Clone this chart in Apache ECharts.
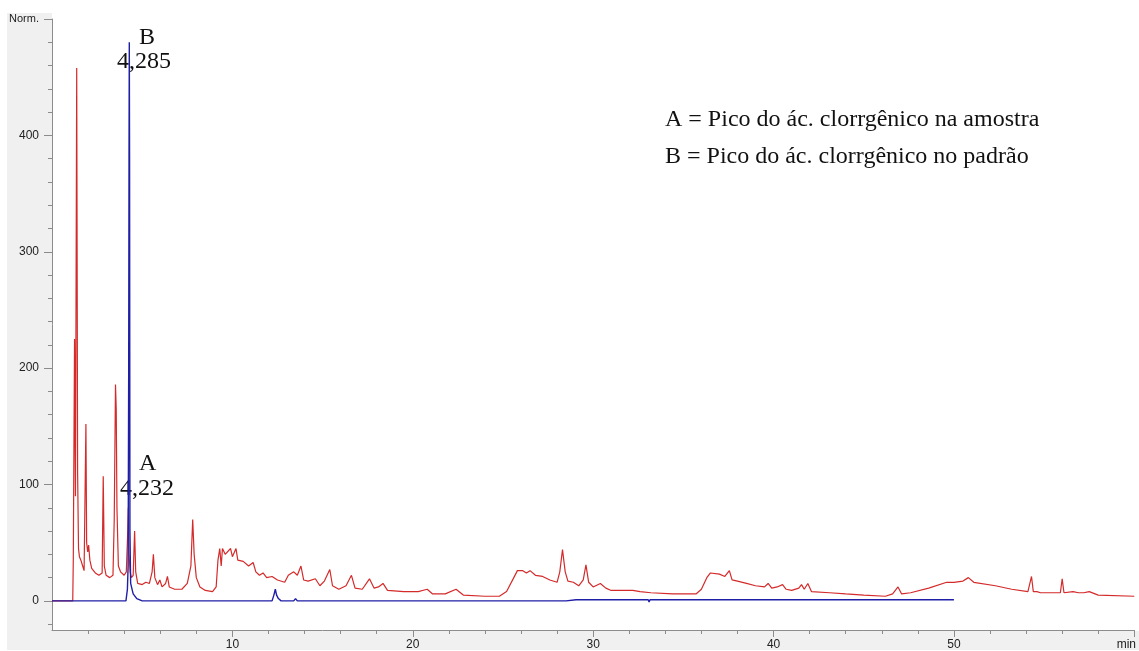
<!DOCTYPE html>
<html>
<head>
<meta charset="utf-8">
<title>Cromatograma</title>
<script src="https://cdn.jsdelivr.net/npm/echarts@6/dist/echarts.min.js"></script>
<style>
    html, body { margin: 0; padding: 0; background: #ffffff; }
    #chrom { width: 1139px; height: 651px; }
</style>
</head>
<body>
<div id="chrom"></div>
<script>
// amostra (vermelho): tempo em min / sinal
var sampleTime = [0, 1.15, 1.18, 1.25, 1.3, 1.37, 1.42, 1.47, 1.52, 1.6, 1.7, 1.78, 1.84, 1.88, 1.92, 1.98, 2.03, 2.1, 2.2, 2.4, 2.6, 2.78, 2.84, 2.9, 3.0, 3.2, 3.38, 3.45, 3.52, 3.56, 3.6, 3.68, 3.8, 4.0, 4.12, 4.2, 4.232, 4.27, 4.33, 4.4, 4.5, 4.58, 4.64, 4.75, 5.0, 5.2, 5.4, 5.55, 5.62, 5.7, 5.85, 5.98, 6.1, 6.3, 6.4, 6.5, 6.8, 7.2, 7.5, 7.7, 7.8, 7.88, 8.0, 8.2, 8.5, 8.9, 9.1, 9.2, 9.3, 9.38, 9.45, 9.6, 9.9, 10.0, 10.2, 10.3, 10.6, 10.9, 11.15, 11.3, 11.5, 11.7, 11.9, 12.2, 12.5, 12.9, 13.1, 13.4, 13.6, 13.8, 13.95, 14.2, 14.6, 14.85, 15.1, 15.4, 15.55, 15.9, 16.3, 16.6, 16.8, 17.2, 17.6, 17.85, 18.1, 18.35, 18.6, 19.5, 20.3, 20.8, 21.1, 21.8, 22.4, 22.8, 24.0, 24.8, 25.2, 25.6, 25.8, 26.1, 26.3, 26.5, 26.8, 27.2, 27.6, 28.0, 28.15, 28.3, 28.45, 28.6, 28.9, 29.2, 29.45, 29.6, 29.75, 30.0, 30.4, 30.7, 31.0, 32.2, 32.6, 33.2, 34.4, 35.2, 35.7, 36.0, 36.3, 36.5, 37.0, 37.3, 37.55, 37.7, 38.0, 38.5, 39.0, 39.5, 39.7, 39.9, 40.2, 40.5, 40.7, 41.0, 41.4, 41.55, 41.7, 41.9, 42.1, 43.1, 44.0, 45.0, 46.2, 46.6, 46.9, 47.1, 47.6, 48.6, 49.6, 50.0, 50.5, 50.8, 51.1, 52.3, 53.2, 54.1, 54.2, 54.3, 54.4, 54.6, 54.8, 55.9, 56.0, 56.1, 56.6, 56.9, 57.2, 57.5, 58.0, 60.0];
var sampleSignal = [0, 0, 35, 225, 90, 458, 110, 45, 38, 35, 30, 26, 26, 152, 50, 42, 48, 35, 28, 24, 22, 24, 107, 30, 22, 20, 22, 70, 186, 165, 80, 30, 25, 22, 25, 60, 80, 40, 25, 20, 22, 60, 25, 15, 14, 16, 15, 25, 40, 20, 14, 18, 12, 15, 21, 12, 10, 10, 15, 30, 70, 40, 20, 12, 9, 8, 12, 35, 45, 30, 45, 40, 45, 38, 45, 35, 34, 30, 33, 25, 22, 24, 20, 21, 18, 16, 22, 25, 22, 30, 18, 17, 19, 13, 17, 27, 13, 10, 13, 22, 11, 10, 19, 11, 12, 15, 9, 8, 8, 10, 6, 6, 10, 5, 4, 4, 8, 20, 26, 26, 24, 26, 22, 21, 18, 16, 25, 44, 25, 17, 16, 13, 18, 31, 16, 12, 15, 11, 9, 9, 8, 7, 6, 6, 6, 10, 20, 24, 23, 21, 26, 18, 17, 15, 13, 12, 15, 11, 12, 14, 10, 9, 11, 14, 10, 15, 8, 7, 6, 5, 4, 6, 12, 6, 7, 11, 16, 16, 17, 20, 16, 13, 10, 8, 8, 21, 8, 8, 7, 7, 19, 7, 8, 7, 7, 8, 5, 4];

// padrão (azul)
var standardTime = [0, 4.1, 4.18, 4.22, 4.25, 4.27, 4.285, 4.3, 4.32, 4.36, 4.5, 4.7, 5.0, 9.85, 9.9, 9.95, 12.2, 12.3, 12.38, 12.45, 12.55, 12.7, 13.4, 13.5, 13.6, 28.5, 28.6, 29.05, 29.15, 29.3, 30.75, 30.85, 31.0, 33.05, 33.1, 33.15, 36.3, 36.4, 36.5, 50.0];
var standardSignal = [0, 0, 10, 30, 190, 380, 480, 380, 60, 15, 6, 2, 0, 0, 1.5, 0, 0, 5, 10, 5, 2, 0, 0, 2, 0, 0, 1, 1, 2.5, 1, 1, 2.5, 1, 1, -1, 1, 1, 2, 1, 1];

var yMajorTicks = [0, 100, 200, 300, 400, 500];
var yMinorTicks = [-20, 20, 40, 60, 80, 120, 140, 160, 180, 220, 240, 260, 280, 320, 340, 360, 380, 420, 440, 460, 480];
var xMajorTicks = [10, 20, 30, 40, 50, 60];
var xMinorTicks = [2, 4, 6, 8, 12, 14, 16, 18, 22, 24, 26, 28, 32, 34, 36, 38, 42, 44, 46, 48, 52, 54, 56, 58];

var peakB = ['B', '4,285'];
var peakA = ['A', '4,232'];
var legendLines = ['A = Pico do ác. clorrgênico na amostra', 'B = Pico do ác. clorrgênico no padrão'];

function pairs(xs, ys) {
    var out = [];
    for (var i = 0; i < xs.length; i++) {
        out.push([xs[i], ys[i]]);
    }
    return out;
}

var axisGray = '#8c8c8c';
var serif = '"Liberation Serif", "DejaVu Serif", serif';
var sans = '"Liberation Sans", "DejaVu Sans", sans-serif';

var myChart = echarts.init(document.getElementById('chrom'));
myChart.setOption({
    backgroundColor: '#ffffff',
    animation: false,
    grid: { left: 52, right: 4, top: 19, bottom: 20 },
    graphic: [
        // moldura cinza do software + area branca do grafico
        { type: 'rect', z: -20, shape: { x: 7, y: 13, width: 1132, height: 637 }, style: { fill: '#f0f0f0' } },
        { type: 'rect', z: -10, shape: { x: 52, y: 13, width: 1087, height: 618 }, style: { fill: '#ffffff' } },
        { type: 'text', left: 139, top: 26, style: { text: peakB[0], font: '24px ' + serif, fill: '#111' } },
        { type: 'text', left: 117, top: 50, style: { text: peakB[1], font: '24px ' + serif, fill: '#111', letterSpacing: 0.5 } },
        { type: 'text', left: 139, top: 452, style: { text: peakA[0], font: '24px ' + serif, fill: '#111' } },
        { type: 'text', left: 120, top: 477, style: { text: peakA[1], font: '24px ' + serif, fill: '#111', letterSpacing: 0.5 } },
        { type: 'text', left: 665, top: 108, style: { text: legendLines[0], font: '24px ' + serif, fill: '#111' } },
        { type: 'text', left: 665, top: 145, style: { text: legendLines[1], font: '24px ' + serif, fill: '#111' } }
    ],
    xAxis: [
        {
            type: 'value', min: 0, max: 60,
            axisLine: { onZero: false, lineStyle: { color: axisGray } },
            axisTick: { customValues: xMajorTicks, length: 7, lineStyle: { color: axisGray } },
            axisLabel: {
                customValues: xMajorTicks, margin: 9, color: '#222', fontSize: 12,
                fontFamily: sans,
                formatter: function (v) { return v === 60 ? '{m|min}' : String(v); },
                rich: { m: { fontSize: 12, color: '#222', padding: [0, 16, 0, 0], fontFamily: sans } }
            },
            splitLine: { show: false }
        },
        {
            type: 'value', min: 0, max: 60, position: 'bottom',
            axisLine: { show: false, onZero: false },
            axisTick: { customValues: xMinorTicks, length: 4, lineStyle: { color: axisGray } },
            axisLabel: { show: false },
            splitLine: { show: false }
        }
    ],
    yAxis: [
        {
            type: 'value', min: -25, max: 500,
            axisLine: { show: true, onZero: false, lineStyle: { color: axisGray } },
            axisTick: { show: true, customValues: yMajorTicks, length: 8, lineStyle: { color: axisGray } },
            axisLabel: {
                customValues: yMajorTicks, margin: 13, color: '#222', fontSize: 12,
                fontFamily: sans,
                formatter: function (v) { return v === 500 ? '{n|Norm.}' : String(v); },
                rich: { n: { fontSize: 11, color: '#222', fontFamily: sans } }
            },
            splitLine: { show: false }
        },
        {
            type: 'value', min: -25, max: 500, position: 'left',
            axisLine: { show: false, onZero: false },
            axisTick: { show: true, customValues: yMinorTicks, length: 4, lineStyle: { color: axisGray } },
            axisLabel: { show: false },
            splitLine: { show: false }
        }
    ],
    series: [
        {
            name: 'Amostra',
            type: 'line',
            data: pairs(sampleTime, sampleSignal),
            showSymbol: false,
            lineStyle: { color: '#d42a2a', width: 1.2 },
            itemStyle: { color: '#d42a2a' }
        },
        {
            name: 'Padrão',
            type: 'line',
            data: pairs(standardTime, standardSignal),
            showSymbol: false,
            lineStyle: { color: '#1e1ea6', width: 1.4 },
            itemStyle: { color: '#1e1ea6' }
        }
    ]
});
</script>
</body>
</html>
